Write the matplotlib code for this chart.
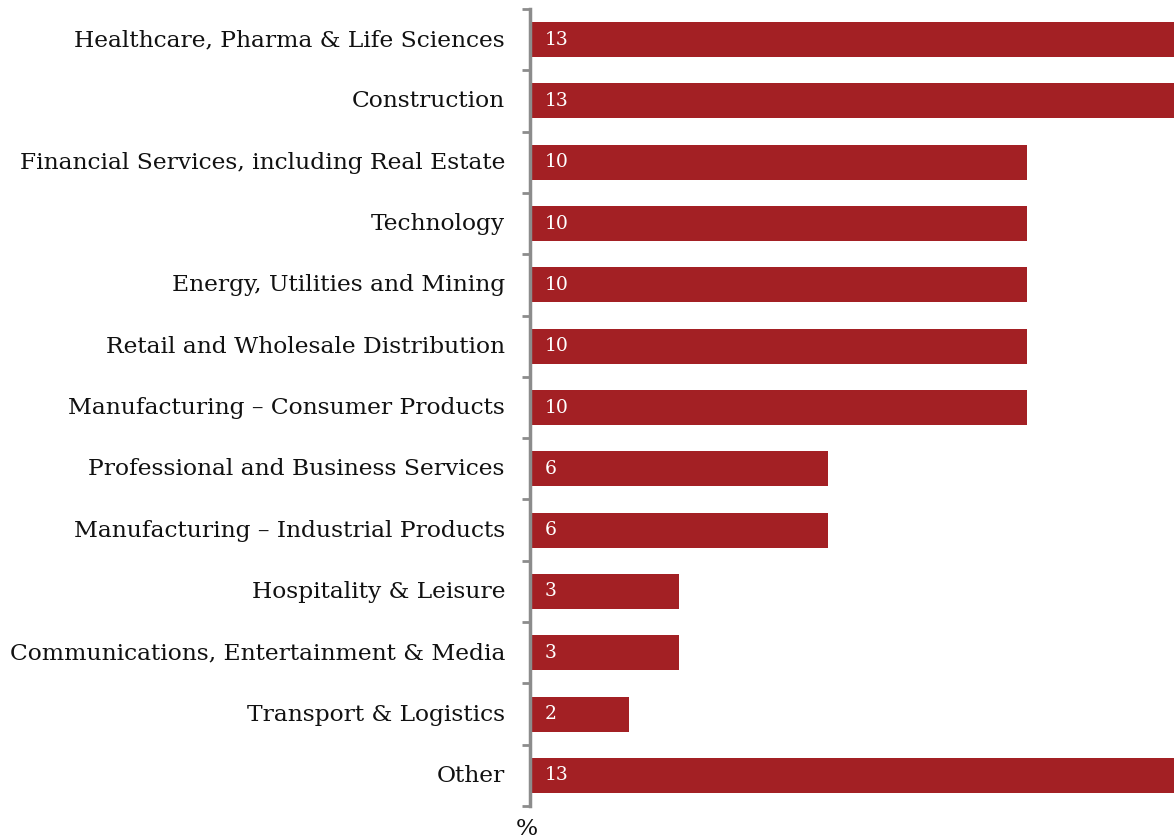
import matplotlib
matplotlib.use("Agg")
import matplotlib.pyplot as plt
import matplotlib.transforms as mtransforms
import numpy as np

categories = [
    "Healthcare, Pharma & Life Sciences",
    "Construction",
    "Financial Services, including Real Estate",
    "Technology",
    "Energy, Utilities and Mining",
    "Retail and Wholesale Distribution",
    "Manufacturing \u2013 Consumer Products",
    "Professional and Business Services",
    "Manufacturing \u2013 Industrial Products",
    "Hospitality & Leisure",
    "Communications, Entertainment & Media",
    "Transport & Logistics",
    "Other",
]
values = [13, 13, 10, 10, 10, 10, 10, 6, 6, 3, 3, 2, 13]

BAR_COLOR = "#a32024"
SPINE_COLOR = "#8c8c8c"
FONT = "DejaVu Serif"

W, H = 1174, 839
fig = plt.figure(figsize=(W / 100, H / 100), dpi=100)
left_px, top_px, bottom_px = 530, 9, 806
ax = fig.add_axes([left_px / W, 1 - bottom_px / H, 1 - left_px / W, (bottom_px - top_px) / H])

y = np.arange(len(categories))
ax.barh(y, values, height=0.57, color=BAR_COLOR, edgecolor="none")

for yi, v in zip(y, values):
    ax.text(0.3, yi, f"{v}", va="center", ha="left", color="white",
            fontsize=13.5, family=FONT)

ax.set_ylim(len(categories) - 0.5, -0.5)
ax.set_xlim(0, (W - left_px) / 49.7)

ax.set_yticks(y)
ax.set_yticklabels(categories, fontsize=16.8, family=FONT, color="#111111")
ax.set_yticks(np.arange(-0.5, len(categories)), minor=True)
ax.tick_params(axis="y", which="major", length=0, pad=18)
ax.tick_params(axis="y", which="minor", length=6, width=2, color=SPINE_COLOR, direction="out")
ax.set_xticks([])

# nudge category labels up slightly
shift = mtransforms.ScaledTranslation(0, 2 / 100, fig.dpi_scale_trans)
for lab in ax.get_yticklabels():
    lab.set_transform(lab.get_transform() + shift)

for s in ["top", "right", "bottom"]:
    ax.spines[s].set_visible(False)
ax.spines["left"].set_color(SPINE_COLOR)
ax.spines["left"].set_linewidth(2.5)

fig.text(527 / W, 1 - 829 / H, "%", ha="center", va="center", fontsize=16.8,
         family=FONT, color="#111111")

fig.savefig("out.png", dpi=100)
